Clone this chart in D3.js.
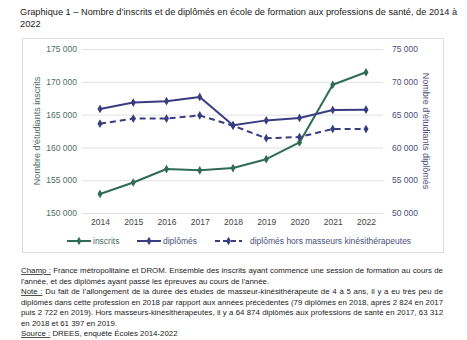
<!DOCTYPE html>
<html>
<head>
<meta charset="utf-8">
<script src="https://cdn.jsdelivr.net/npm/d3@7"></script>
<style>
  html, body { margin: 0; padding: 0; background: #fff; }
  svg { display: block; font-family: "Liberation Sans", Arial, sans-serif; }
</style>
</head>
<body>
<svg id="chart" width="467" height="340"></svg>
<script>
// Years and series (number of students)
const years = [2014, 2015, 2016, 2017, 2018, 2019, 2020, 2021, 2022];
const inscrits = [152900, 154650, 156700, 156500, 156850, 158200, 160750, 169550, 171450];
const diplomes = [65870, 66840, 67040, 67698, 63391, 64119, 64490, 65710, 65750];
const diplomesHorsMK = [63620, 64390, 64390, 64874, 63312, 61397, 61580, 62810, 62800];

const leftTicks = [150000, 155000, 160000, 165000, 170000, 175000];
const rightTicks = [50000, 55000, 60000, 65000, 70000, 75000];

const titleLines = [
  "Graphique 1 – Nombre d’inscrits et de diplômés en école de formation aux professions de santé, de 2014 à",
  "2022"
];
const legendLabels = ["inscrits", "diplômés", "diplômés hors masseurs kinésithérapeutes"];

const green = "#2f6b55";
const navy = "#383d82";

const svg = d3.select("#chart");
const fmt = v => d3.format(",")(v).replace(/,/g, " ");

// Scale a text's font size so that its natural width equals `width`
function fitWidth(sel, width, base) {
  sel.attr("font-size", base);
  const w = sel.node().getComputedTextLength();
  if (w > 0) sel.attr("font-size", base * width / w);
  return +sel.attr("font-size");
}

// Title
const t1 = svg.append("text").attr("x", 20).attr("y", 15).attr("fill", "#222").text(titleLines[0]);
const titleSize = fitWidth(t1, 438, 10);
svg.append("text").attr("x", 20).attr("y", 27).attr("fill", "#222")
  .attr("font-size", titleSize).text(titleLines[1]);

// Frame around the chart
svg.append("rect").attr("x", 22.5).attr("y", 38.5).attr("width", 421).attr("height", 214)
  .attr("fill", "none").attr("stroke", "#dcdcdc");

const x = d3.scalePoint().domain(years).range([100, 366]);
const yL = d3.scaleLinear().domain([150000, 175000]).range([213, 49]);
const yR = d3.scaleLinear().domain([50000, 75000]).range([213, 49]);

// Gridlines
svg.append("g").selectAll("line").data(leftTicks).join("line")
  .attr("x1", 82).attr("x2", 383)
  .attr("y1", d => yL(d) + 0.5).attr("y2", d => yL(d) + 0.5)
  .attr("stroke", "#e0e0e0").attr("stroke-width", 1);

// Left axis
const axL = svg.append("g").attr("transform", "translate(82,0)")
  .call(d3.axisLeft(yL).tickValues(leftTicks).tickFormat(fmt).tickSize(0).tickPadding(5));
axL.select(".domain").remove();
axL.selectAll("text").attr("font-size", 8.5).attr("fill", "#4f6e63").attr("font-family", "Liberation Sans, Arial, sans-serif");

// Right axis
const axR = svg.append("g").attr("transform", "translate(388,0)")
  .call(d3.axisRight(yR).tickValues(rightTicks).tickFormat(fmt).tickSize(0).tickPadding(4));
axR.select(".domain").remove();
axR.selectAll("text").attr("font-size", 8.5).attr("fill", "#4b4f7c").attr("font-family", "Liberation Sans, Arial, sans-serif");

// Bottom axis (years)
const axB = svg.append("g").attr("transform", "translate(0,213)")
  .call(d3.axisBottom(x).tickSize(0).tickPadding(6));
axB.select(".domain").remove();
axB.selectAll("text").attr("font-size", 8.5).attr("fill", "#444").attr("font-family", "Liberation Sans, Arial, sans-serif");

// Axis titles
svg.append("text").attr("transform", "translate(40,131) rotate(-90)")
  .attr("text-anchor", "middle").attr("font-size", 9).attr("fill", "#4f6e63")
  .text("Nombre d'étudiants inscrits");
svg.append("text").attr("transform", "translate(423,131) rotate(90)")
  .attr("text-anchor", "middle").attr("font-size", 9).attr("fill", "#4b4f7c")
  .text("Nombre d'étudiants diplômés");

// Series
const series = [
  { values: inscrits, y: yL, color: green, dash: null },
  { values: diplomes, y: yR, color: navy, dash: null },
  { values: diplomesHorsMK, y: yR, color: navy, dash: "6,4" }
];

series.forEach(s => {
  const line = d3.line().x((d, i) => x(years[i])).y(d => s.y(d));
  svg.append("path").datum(s.values).attr("d", line)
    .attr("fill", "none").attr("stroke", s.color).attr("stroke-width", 2)
    .attr("stroke-dasharray", s.dash).attr("stroke-linejoin", "round");
  svg.append("g").selectAll("path").data(s.values).join("path")
    .attr("d", d3.symbol(d3.symbolDiamond, 22))
    .attr("transform", (d, i) => `translate(${x(years[i])},${s.y(d)})`)
    .attr("fill", s.color);
});

// Legend
const legendX = [67, 137, 215];
const legendW = [24, 24, 27];
const lg = svg.append("g");
series.forEach((s, i) => {
  const g = lg.append("g").attr("transform", `translate(${legendX[i]},241)`);
  g.append("line").attr("x1", 0).attr("x2", legendW[i]).attr("y1", 0).attr("y2", 0)
    .attr("stroke", s.color).attr("stroke-width", 2).attr("stroke-dasharray", s.dash ? "5,3" : null);
  g.append("path").attr("d", d3.symbol(d3.symbolDiamond, 20))
    .attr("transform", `translate(${legendW[i] / 2},0)`).attr("fill", s.color);
  g.append("text").attr("x", legendW[i] + (i === 2 ? 8 : 2)).attr("y", 3)
    .attr("font-size", 8.5).attr("fill", i === 0 ? "#4f6e63" : "#4b4f7c").text(legendLabels[i]);
});

// Notes under the chart (justified paragraph: full lines are stretched with word spacing)
const notes = [
  [{ u: "Champ :" }, { t: " France métropolitaine et DROM. Ensemble des inscrits ayant commencé une session de formation au cours de" }],
  [{ t: "l'année, et des diplômés ayant passé les épreuves au cours de l'année." }],
  [{ u: "Note :" }, { t: " Du fait de l’allongement de la durée des études de masseur-kinésithérapeute de 4 à 5 ans, il y a eu très peu de" }],
  [{ t: "diplômés dans cette profession en 2018 par rapport aux années précédentes (79 diplômés en 2018, après 2 824 en 2017" }],
  [{ t: "puis 2 722 en 2019). Hors masseurs-kinésithérapeutes, il y a 64 874 diplômés aux professions de santé en 2017, 63 312" }],
  [{ t: "en 2018 et 61 397 en 2019." }],
  [{ u: "Source :" }, { t: " DREES, enquête Écoles 2014-2022" }]
];
const justified = [true, false, true, true, true, false, false];
const noteWidth = 422;
const ng = svg.append("g");
const noteTexts = notes.map((parts, i) => {
  const txt = ng.append("text").attr("x", 21).attr("y", 273 + i * 10.5).attr("fill", "#222");
  parts.forEach(p => {
    if (p.u) txt.append("tspan").attr("text-decoration", "underline").text(p.u);
    else txt.append("tspan").text(p.t);
  });
  return txt;
});
// Common font size: the largest at which every justified line still fits
let noteSize = 9;
noteTexts.forEach((txt, i) => {
  if (!justified[i]) return;
  txt.attr("font-size", 9);
  const w = txt.node().getComputedTextLength();
  noteSize = Math.min(noteSize, 9 * noteWidth / w);
});
noteTexts.forEach((txt, i) => {
  txt.attr("font-size", noteSize);
  if (!justified[i]) return;
  const w = txt.node().getComputedTextLength();
  const spaces = (txt.text().match(/ /g) || []).length;
  if (spaces > 0 && w < noteWidth) txt.attr("word-spacing", (noteWidth - w) / spaces);
});
</script>
</body>
</html>
